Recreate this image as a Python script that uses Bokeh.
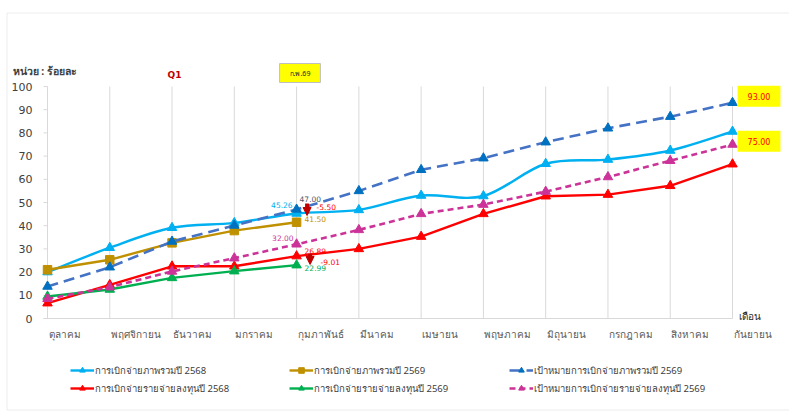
from bokeh.plotting import figure
from bokeh.models import (Range1d, Label, Legend, LegendItem, Arrow, NormalHead, BoxAnnotation)
from bokeh.core.properties import value
from bokeh.embed import file_html
from bokeh.resources import INLINE

# ---------------- data ----------------
months = ["ตุลาคม", "พฤศจิกายน", "ธันวาคม", "มกราคม", "กุมภาพันธ์", "มีนาคม",
          "เมษายน", "พฤษภาคม", "มิถุนายน", "กรกฎาคม", "สิงหาคม", "กันยายน"]
total_2568 = [20.0, 30.5, 39.1, 41.2, 45.26, 46.8, 53.0, 52.8, 66.7, 68.5, 72.4, 80.6]
total_2569 = [21.0, 25.3, 32.6, 37.9, 41.50]
target_total_2569 = [13.8, 22.1, 33.2, 40.1, 47.00, 55.0, 64.1, 69.1, 76.0, 82.0, 87.0, 93.00]
invest_2568 = [6.6, 14.5, 22.5, 22.5, 26.89, 30.0, 35.3, 45.1, 52.7, 53.4, 57.2, 66.5]
invest_2569 = [9.5, 12.5, 17.5, 20.4, 22.99]
target_invest_2569 = [8.5, 13.5, 20.3, 26.0, 32.00, 38.2, 45.1, 49.1, 54.7, 61.0, 68.0, 75.00]
y_ticks = list(range(0, 101, 10))

series_names = ["การเบิกจ่ายภาพรวมปี 2568", "การเบิกจ่ายภาพรวมปี 2569",
                "เป้าหมายการเบิกจ่ายภาพรวมปี 2569", "การเบิกจ่ายรายจ่ายลงทุนปี 2568",
                "การเบิกจ่ายรายจ่ายลงทุนปี 2569", "เป้าหมายการเบิกจ่ายรายจ่ายลงทุนปี 2569"]
unit_label = "หน่วย : ร้อยละ"
quarter_label = "Q1"
current_month_label = "ก.พ.69"
axis_x_title = "เดือน"

FEB = 4
THAI = "Noto Sans"
NUM = "DejaVu Sans"

W, H = 789, 411
# layout: first month at pixel 47, last at 732; value 0 at pixel row 318, 100 at row 86
SX = (732 - 47) / 11.0
SY = (318 - 86) / 100.0
X0 = -47 / SX
Y0 = -(H - 318) / SY


def px(xp):
    return X0 + xp / SX


def py(yp):
    return Y0 + (H - yp) / SY


x_all = list(range(len(months)))
x_2569 = list(range(len(total_2569)))

p = figure(width=W, height=H, output_backend="svg", toolbar_location=None,
           x_range=Range1d(X0, X0 + W / SX), y_range=Range1d(Y0, Y0 + H / SY),
           x_axis_location=None, y_axis_location=None,
           min_border_left=0, min_border_right=0, min_border_top=0, min_border_bottom=0)
p.outline_line_color = None
p.background_fill_color = "white"
p.border_fill_color = "white"
p.xgrid.visible = False
p.ygrid.visible = False

# chart-area border
p.add_layout(BoxAnnotation(left=px(6.5), right=px(800), top=py(12.5), bottom=py(409.5),
                           fill_alpha=0, line_color="#BFBFBF", line_width=1))

# vertical grid lines (one per month, from the lowest to the highest y tick), axis line, y ticks
p.segment(x0=x_all, y0=[y_ticks[0]] * len(x_all), x1=x_all, y1=[y_ticks[-1]] * len(x_all),
          line_color="#D9D9D9", line_width=1)
p.segment(x0=[px(43)], y0=[y_ticks[0]], x1=[x_all[-1]], y1=[y_ticks[0]],
          line_color="#D9D9D9", line_width=1)
p.segment(x0=[px(43)] * len(y_ticks), y0=y_ticks, x1=[x_all[0]] * len(y_ticks), y1=y_ticks,
          line_color="#D9D9D9", line_width=1)

# tick labels
p.text(x=[px(32)] * len(y_ticks), y=y_ticks, text=[str(t) for t in y_ticks],
       text_align="right", text_baseline="middle", text_font=value(NUM),
       text_font_size="11px", text_color="#404040")
p.text(x=x_all, y=[py(333)] * len(months), text=months, x_offset=1,
       text_align="left", text_baseline="middle", text_font=value(THAI),
       text_font_size="10px", text_color="#595959")


def smooth(xs, ys):
    n = len(xs)
    out = {k: [] for k in ("x0", "y0", "x1", "y1", "cx0", "cy0", "cx1", "cy1")}
    for i in range(n - 1):
        ip = max(i - 1, 0)
        inn = min(i + 2, n - 1)
        out["x0"].append(xs[i]); out["y0"].append(ys[i])
        out["x1"].append(xs[i + 1]); out["y1"].append(ys[i + 1])
        out["cx0"].append(xs[i] + (xs[i + 1] - xs[ip]) / 6)
        out["cy0"].append(ys[i] + (ys[i + 1] - ys[ip]) / 6)
        out["cx1"].append(xs[i + 1] - (xs[inn] - xs[i]) / 6)
        out["cy1"].append(ys[i + 1] - (ys[inn] - ys[i]) / 6)
    return out


C_T68 = "#00B0F0"
C_T69 = "#BF9000"
C_TT = "#4472C4"
C_TTM = "#0070C0"
C_I68 = "#FF0000"
C_I69 = "#00B050"
C_TI = "#CC3399"

b = smooth(x_all, total_2568)
r1l = p.bezier(x0=b["x0"], y0=b["y0"], x1=b["x1"], y1=b["y1"], cx0=b["cx0"], cy0=b["cy0"],
               cx1=b["cx1"], cy1=b["cy1"], line_color=C_T68, line_width=2.4)
r1m = p.scatter(x_all, total_2568, marker="triangle", size=9.5, color=C_T68)

r2l = p.line(x_2569, total_2569, line_color=C_T69, line_width=2.4)
r2m = p.scatter(x_2569, total_2569, marker="square", size=8.5, color=C_T69)

r3l = p.line(x_all, target_total_2569, line_color=C_TT, line_width=2.6, line_dash="11 6")
r3m = p.scatter(x_all, target_total_2569, marker="triangle", size=9.5, color=C_TTM)

r4l = p.line(x_all, invest_2568, line_color=C_I68, line_width=2.4)
r4m = p.scatter(x_all, invest_2568, marker="triangle", size=9.5, color=C_I68)

r5l = p.line(x_2569, invest_2569, line_color=C_I69, line_width=2.4)
r5m = p.scatter(x_2569, invest_2569, marker="triangle", size=9.5, color=C_I69)

r6l = p.line(x_all, target_invest_2569, line_color=C_TI, line_width=2.6, line_dash="6 4")
r6m = p.scatter(x_all, target_invest_2569, marker="triangle", size=9.5, color=C_TI)

# legends (three columns of two rows)
pairs = [[(r1l, r1m), (r4l, r4m)], [(r2l, r2m), (r5l, r5m)], [(r3l, r3m), (r6l, r6m)]]
names = [[series_names[0], series_names[3]], [series_names[1], series_names[4]],
         [series_names[2], series_names[5]]]
xlocs = [70, 289, 509]
for col in range(3):
    items = [LegendItem(label=names[col][k], renderers=list(pairs[col][k])) for k in range(2)]
    lg = Legend(items=items, location=(xlocs[col], H - 364.5 - 31), orientation="vertical",
                padding=0, margin=0, spacing=3, label_height=14, glyph_height=14,
                glyph_width=24, label_standoff=1, border_line_color=None,
                background_fill_alpha=0, label_text_font=THAI,
                label_text_font_size="9.5px", label_text_color="#404040")
    p.add_layout(lg, "center")


def lab(x, y, text, xo=0, yo=0, color="#404040", size="7.5px", font=NUM, align="left",
        style="normal", **kw):
    p.add_layout(Label(x=x, y=y, text=text, x_offset=xo, y_offset=yo, text_color=color,
                       text_font_size=size, text_font=font, text_align=align,
                       text_baseline="middle", text_font_style=style, **kw))


# value labels at February
lab(FEB, total_2568[FEB], f"{total_2568[FEB]:.2f}", -4, 8, C_T68, align="right")
lab(FEB, target_total_2569[FEB], f"{target_total_2569[FEB]:.2f}", 3, 10, "#44546A")
lab(FEB, total_2569[FEB], f"{total_2569[FEB]:.2f}", 8, 3, C_T69)
lab(FEB, target_total_2569[FEB], f"{total_2569[FEB] - target_total_2569[FEB]:.2f}", 20, 2, "#FF0000")
lab(FEB, target_invest_2569[FEB], f"{target_invest_2569[FEB]:.2f}", -3, 6.5, C_TI, align="right")
lab(FEB, invest_2568[FEB], f"{invest_2568[FEB]:.2f}", 8, 5.6, C_I68)
lab(FEB, invest_2569[FEB], f"{invest_2569[FEB] - target_invest_2569[FEB]:.2f}", 24, 2.7, "#FF0000")
lab(FEB, invest_2569[FEB], f"{invest_2569[FEB]:.2f}", 8, -3, C_I69)

# down arrows
for xo, ys, ye in [(10.5, target_total_2569[FEB] + 2.6, target_total_2569[FEB] - 2.6),
                   (13.5, invest_2568[FEB] + 1.1, invest_2568[FEB] - 3.6)]:
    p.add_layout(Arrow(x_start=FEB + xo / SX, y_start=ys, x_end=FEB + xo / SX, y_end=ye,
                       line_color="#C00000", line_width=4,
                       end=NormalHead(size=8, fill_color="#C00000", line_color="#C00000")))

# headers / boxes
lab(px(12), py(70), unit_label, 0, 0, "#404040", "10.5px", THAI, style="bold")
lab(px(174), py(74), quarter_label, 0, 0, "#C00000", "9px", NUM, align="center", style="bold")
lab(px(299.5), py(72.5), current_month_label, 0, 0, "#262626", "7px", THAI, align="center",
    background_fill_color="#FFFF00", border_line_color="#BFBFBF", padding=(10, 5))
lab(11, target_total_2569[-1], f"{target_total_2569[-1]:.2f}", 26.5, 6.6, "#FF0000", "8px",
    NUM, align="center", background_fill_color="#FFFF00", padding=(10, 7))
lab(11, target_invest_2569[-1], f"{target_invest_2569[-1]:.2f}", 26.5, 3.3, "#FF0000", "8px",
    NUM, align="center", background_fill_color="#FFFF00", padding=(10, 7))
lab(px(738), py(315), axis_x_title, 0, 0, "#262626", "10px", THAI)

open("out.html", "w").write(file_html(p, INLINE))
